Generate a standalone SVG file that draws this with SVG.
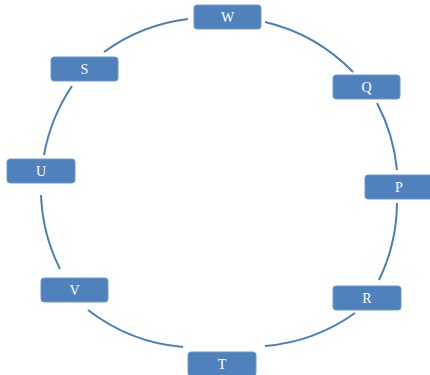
<svg xmlns="http://www.w3.org/2000/svg" width="430" height="375" viewBox="0 0 430 375">
<style>
.box{fill:#4f81bd;stroke:#6f99cc;stroke-width:1}
.lbl{font-family:"Liberation Serif","DejaVu Serif",serif;font-size:14px;fill:#ffffff;text-anchor:middle;dominant-baseline:central}
.arc{fill:none;stroke:#4a7ebb;stroke-width:2}
</style>
<rect width="430" height="375" fill="#ffffff"/>
<g id="connectors">
<path class="arc" d="M265,22 A180,180 0 0 1 353,72"/>
<path class="arc" d="M377,103 A180,180 0 0 1 397,170"/>
<path class="arc" d="M397,203 A180,180 0 0 1 379,280"/>
<path class="arc" d="M355,313 A180,180 0 0 1 265,346"/>
<path class="arc" d="M183,347 A180,180 0 0 1 88,310"/>
<path class="arc" d="M60,269 A180,180 0 0 1 41,195"/>
<path class="arc" d="M44,155 A180,180 0 0 1 72,86"/>
<path class="arc" d="M104,52 A180,180 0 0 1 188,19"/>
</g>
<g id="W"><rect class="box" x="194" y="5" width="67" height="24" rx="3"/><text class="lbl" x="227.5" y="17.5">W</text></g>
<g id="Q"><rect class="box" x="333" y="75" width="67" height="24" rx="3"/><text class="lbl" x="366.5" y="87.5">Q</text></g>
<g id="P"><rect class="box" x="365" y="175" width="68" height="24" rx="3"/><text class="lbl" x="399" y="187.5">P</text></g>
<g id="R"><rect class="box" x="333" y="286" width="68" height="24" rx="3"/><text class="lbl" x="367" y="298.5">R</text></g>
<g id="T"><rect class="box" x="188" y="352" width="68" height="24" rx="3"/><text class="lbl" x="222" y="364.5">T</text></g>
<g id="V"><rect class="box" x="41" y="278" width="67" height="24" rx="3"/><text class="lbl" x="74.5" y="290.5">V</text></g>
<g id="U"><rect class="box" x="7" y="159" width="68" height="24" rx="3"/><text class="lbl" x="41" y="171.5">U</text></g>
<g id="S"><rect class="box" x="51" y="57" width="67" height="24" rx="3"/><text class="lbl" x="84.5" y="69.5">S</text></g>
</svg>
